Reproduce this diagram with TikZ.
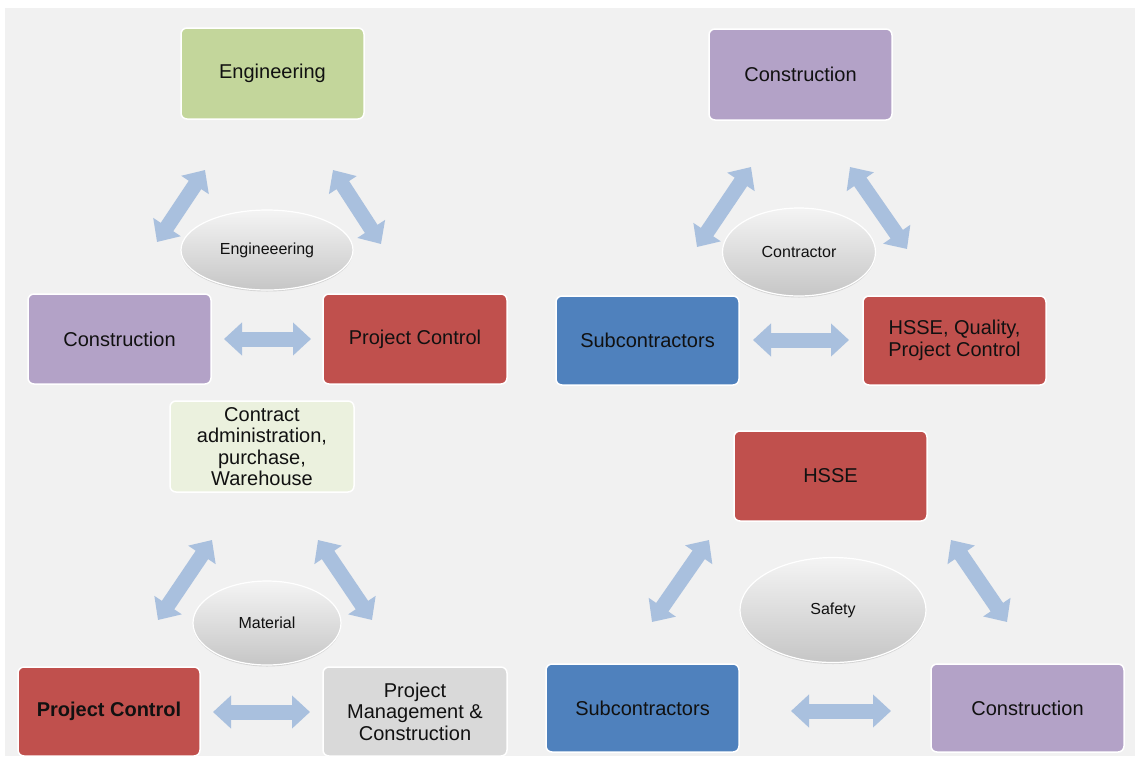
\documentclass[tikz,border=0pt]{standalone}
\usepackage{fontspec}
\setmainfont{Liberation Sans}
\usetikzlibrary{shapes.geometric,arrows.meta,shadings,shadows}
\definecolor{bg}{HTML}{F1F1F1}
\definecolor{cgreen}{HTML}{C3D69B}
\definecolor{cpale}{HTML}{EBF1DE}
\definecolor{cpurple}{HTML}{B3A2C7}
\definecolor{cred}{HTML}{C0504D}
\definecolor{cblue}{HTML}{4F81BD}
\definecolor{cgray}{HTML}{D9D9D9}
\definecolor{arrblue}{HTML}{A9C0DE}
\definecolor{txt}{HTML}{111111}
\definecolor{ovtop}{HTML}{F4F4F4}
\definecolor{ovbot}{HTML}{C6C6C6}
\tikzset{
  box/.style={rectangle, rounded corners=6pt, draw=white, line width=1.5pt,
    align=center, inner sep=0pt, text=txt,
    font=\fontsize{20}{21.5}\selectfont},
  oval/.style={ellipse, draw=white, line width=1.2pt, inner sep=0pt,
    top color=ovtop, bottom color=ovbot, text=txt,
    drop shadow={shadow xshift=0pt, shadow yshift=-1.5pt, opacity=0.25},
    font=\fontsize{16}{17}\selectfont},
  dblarrow/.style={line width=15pt, draw=arrblue,
    {Triangle[length=18pt,width=32pt]}-{Triangle[length=18pt,width=32pt]}}
}
\begin{document}
\begin{tikzpicture}[x=1pt,y=-1pt]
\useasboundingbox (0,0) rectangle (1135,756);
\fill[white] (0,0) rectangle (1135,756);
\fill[bg] (5,8) rectangle (1135,756);

% ---- top-left cluster ----
\node[box, fill=cgreen, minimum width=183pt, minimum height=91pt] (eng) at (272.5,73.5) {Engineering};
\node[oval, minimum width=172pt, minimum height=80pt] (engov) at (267,250) {Engineeering};
\node[box, fill=cpurple, minimum width=183pt, minimum height=90pt] (con1) at (119.5,339) {Construction};
\node[box, fill=cred, minimum width=184pt, minimum height=90pt] (pc1) at (415,339) {Project Control};
\coordinate (a1s) at (157,242); \coordinate (a1e) at (205,170);
\coordinate (a2s) at (333,170); \coordinate (a2e) at (381,244);
\coordinate (a3s) at (224,339); \coordinate (a3e) at (311,339);
\draw[dblarrow] (a1s) -- (a1e);
\draw[dblarrow] (a2s) -- (a2e);
\draw[dblarrow] (a3s) -- (a3e);

% ---- bottom-left cluster ----
\node[box, fill=cpale, minimum width=184pt, minimum height=91pt] (cad) at (262,446.5) {Contract\\administration,\\purchase,\\Warehouse};
\node[oval, minimum width=148pt, minimum height=84pt] (matov) at (267,623) {Material};
\node[box, fill=cred, minimum width=182pt, minimum height=89pt, font=\fontsize{20}{21.5}\selectfont\bfseries] (pc2) at (109,711.5) {Project Control};
\node[box, fill=cgray, minimum width=184pt, minimum height=89pt] (pmc) at (415,711.5) {Project\\Management \&\\Construction};
\coordinate (b1s) at (158,620); \coordinate (b1e) at (212,540);
\coordinate (b2s) at (318,540); \coordinate (b2e) at (372,620);
\coordinate (b3s) at (213,712); \coordinate (b3e) at (310,712);
\draw[dblarrow] (b1s) -- (b1e);
\draw[dblarrow] (b2s) -- (b2e);
\draw[dblarrow] (b3s) -- (b3e);

% ---- top-right cluster ----
\node[box, fill=cpurple, minimum width=183pt, minimum height=91pt] (con2) at (800.5,74.5) {Construction};
\node[oval, minimum width=153pt, minimum height=88pt] (ctrov) at (799,252) {Contractor};
\node[box, fill=cblue, minimum width=183pt, minimum height=89pt] (sub1) at (647.5,340.5) {Subcontractors};
\node[box, fill=cred, minimum width=183pt, minimum height=89pt] (hqp) at (954.5,340.5) {HSSE, Quality,\\Project Control};
\coordinate (c1s) at (697,247); \coordinate (c1e) at (751,167);
\coordinate (c2s) at (850,167); \coordinate (c2e) at (907,249);
\coordinate (c3s) at (753,340); \coordinate (c3e) at (849,340);
\draw[dblarrow] (c1s) -- (c1e);
\draw[dblarrow] (c2s) -- (c2e);
\draw[dblarrow] (c3s) -- (c3e);

% ---- bottom-right cluster ----
\node[box, fill=cred, minimum width=193pt, minimum height=90pt] (hsse) at (830.5,476) {HSSE};
\node[oval, minimum width=186pt, minimum height=105pt] (safov) at (833,610) {Safety};
\node[box, fill=cblue, minimum width=193pt, minimum height=88pt] (sub2) at (642.5,708) {Subcontractors};
\node[box, fill=cpurple, minimum width=193pt, minimum height=88pt] (con3) at (1027.5,708) {Construction};
\coordinate (d1s) at (652,622); \coordinate (d1e) at (709,540);
\coordinate (d2s) at (951,540); \coordinate (d2e) at (1007,622);
\coordinate (d3s) at (791,711); \coordinate (d3e) at (891,711);
\draw[dblarrow] (d1s) -- (d1e);
\draw[dblarrow] (d2s) -- (d2e);
\draw[dblarrow] (d3s) -- (d3e);
\end{tikzpicture}
\end{document}
